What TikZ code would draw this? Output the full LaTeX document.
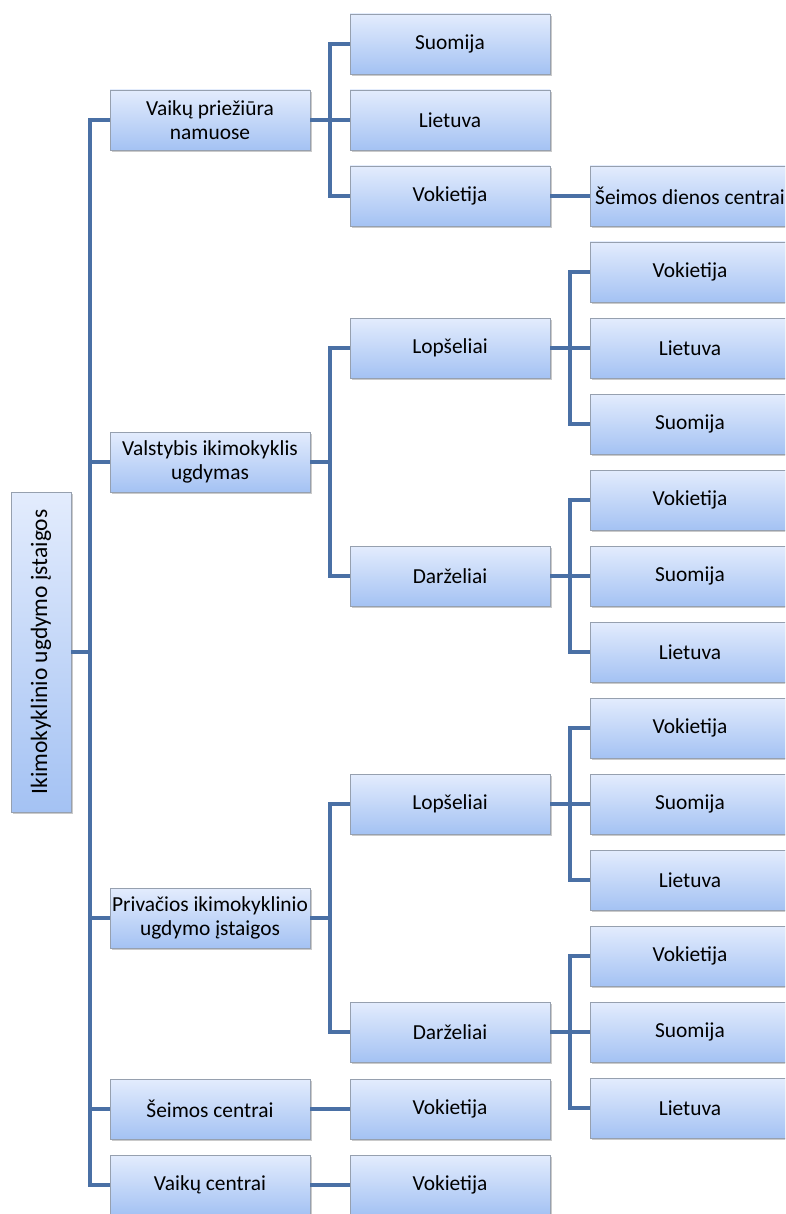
\documentclass[tikz,border=0pt]{standalone}
\usepackage{fontspec}
\setmainfont{Carlito}
\usetikzlibrary{shadows}
\definecolor{linec}{RGB}{74,112,165}
\definecolor{boxtop}{RGB}{227,236,253}
\definecolor{boxbot}{RGB}{164,194,243}
\definecolor{boxborder}{RGB}{150,160,175}
\tikzset{
  box/.style={draw=boxborder, line width=0.8pt, top color=boxtop, bottom color=boxbot,
    minimum width=200pt, minimum height=60pt, inner sep=0pt, align=center,
    font=\fontsize{21.4}{24}\selectfont,
    drop shadow={shadow xshift=2pt, shadow yshift=-2pt, opacity=0.35, fill=black!60}},
  rootbox/.style={box, minimum width=60pt, minimum height=320pt, font=\fontsize{23.5}{26}\selectfont},
  conn/.style={draw=linec, line width=4pt, line join=miter}
}
\begin{document}
\begin{tikzpicture}[x=1pt,y=-1pt]
\useasboundingbox (0,0) rectangle (785,1214);
\clip (0,0) rectangle (785,1214);
% root
\node[rootbox] (root) at (41,652) {\rotatebox{90}{Ikimokyklinio ugdymo įstaigos}};
% level 1
\node[box] (a) at (210,120) {Vaikų priežiūra\\namuose};
\node[box] (b) at (210,462) {Valstybis ikimokyklis\\ugdymas};
\node[box] (c) at (210,918) {Privačios ikimokyklinio\\ugdymo įstaigos};
\node[box] (d) at (210,1109) {Šeimos centrai};
\node[box] (e) at (210,1185) {Vaikų centrai};
% level 2
\node[box] (a1) at (450,44) {Suomija};
\node[box] (a2) at (450,120) {Lietuva};
\node[box] (a3) at (450,196) {Vokietija};
\node[box] (b1) at (450,348) {Lopšeliai};
\node[box] (b2) at (450,576) {Darželiai};
\node[box] (c1) at (450,804) {Lopšeliai};
\node[box] (c2) at (450,1032) {Darželiai};
\node[box] (d1) at (450,1109) {Vokietija};
\node[box] (e1) at (450,1185) {Vokietija};
% level 3
\node[box] (a31) at (690,196) {Šeimos dienos centrai};
\node[box] (b11) at (690,272) {Vokietija};
\node[box] (b12) at (690,348) {Lietuva};
\node[box] (b13) at (690,424) {Suomija};
\node[box] (b21) at (690,500) {Vokietija};
\node[box] (b22) at (690,576) {Suomija};
\node[box] (b23) at (690,652) {Lietuva};
\node[box] (c11) at (690,728) {Vokietija};
\node[box] (c12) at (690,804) {Suomija};
\node[box] (c13) at (690,880) {Lietuva};
\node[box] (c21) at (690,956) {Vokietija};
\node[box] (c22) at (690,1032) {Suomija};
\node[box] (c23) at (690,1108) {Lietuva};
% connectors
\foreach \ch in {a,b,c,d,e}
  \draw[conn] (root.east) -- ++(19,0) |- (\ch.west);
\foreach \ch in {a1,a2,a3}
  \draw[conn] (a.east) -- ++(20,0) |- (\ch.west);
\foreach \ch in {b1,b2}
  \draw[conn] (b.east) -- ++(20,0) |- (\ch.west);
\foreach \ch in {c1,c2}
  \draw[conn] (c.east) -- ++(20,0) |- (\ch.west);
\draw[conn] (d.east) -- (d1.west);
\draw[conn] (e.east) -- (e1.west);
\draw[conn] (a3.east) -- (a31.west);
\foreach \ch in {b11,b12,b13}
  \draw[conn] (b1.east) -- ++(20,0) |- (\ch.west);
\foreach \ch in {b21,b22,b23}
  \draw[conn] (b2.east) -- ++(20,0) |- (\ch.west);
\foreach \ch in {c11,c12,c13}
  \draw[conn] (c1.east) -- ++(20,0) |- (\ch.west);
\foreach \ch in {c21,c22,c23}
  \draw[conn] (c2.east) -- ++(20,0) |- (\ch.west);
\end{tikzpicture}
\end{document}
